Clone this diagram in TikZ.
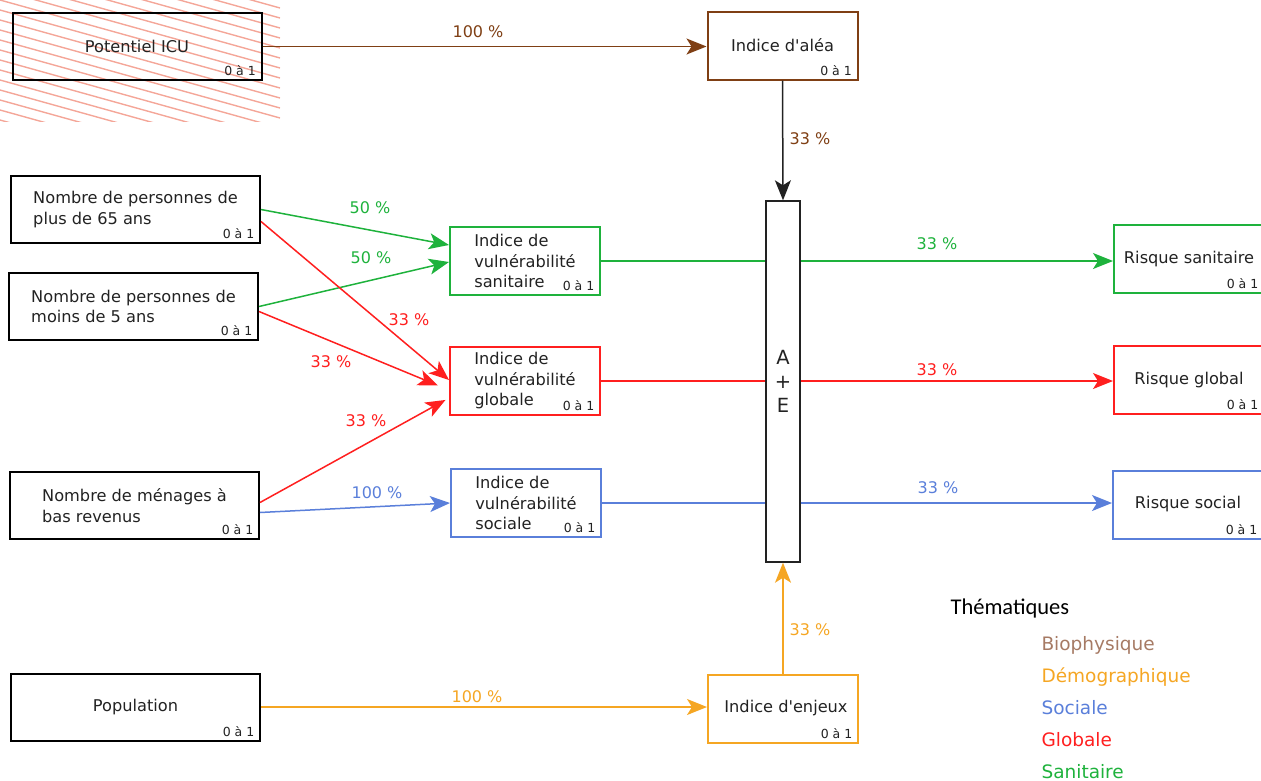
\documentclass[tikz,border=0pt]{standalone}
\usepackage{fontspec}
\setmainfont{DejaVu Sans}
\newfontfamily\titrefont{Carlito}
\usetikzlibrary{positioning,arrows.meta}
\definecolor{cbrun}{HTML}{7F3F14}
\definecolor{cbrunpale}{HTML}{A67A64}
\definecolor{cvert}{HTML}{1EB23C}
\definecolor{crouge}{HTML}{FF1F1F}
\definecolor{cbleu}{HTML}{5A7FDA}
\definecolor{corange}{HTML}{F5A623}
\definecolor{chachure}{HTML}{F4A698}
\definecolor{ctexte}{HTML}{222222}

\begin{document}
\begin{tikzpicture}[x=1pt,y=-1pt,
  boite/.style={draw=black,line width=2pt,minimum width=249pt,minimum height=67pt,
    text=ctexte,font=\fontsize{16.2}{20.5}\selectfont,align=left},
  indice/.style={fill=white,line width=2pt,minimum width=150pt,minimum height=68pt,
    text=ctexte,font=\fontsize{16.2}{20.5}\selectfont,align=left},
  unite/.style={anchor=south east,inner xsep=6.5pt,inner ysep=5pt,text=ctexte,
    font=\fontsize{12.5}{13}\selectfont},
  pct/.style={font=\fontsize{16}{18}\selectfont},
  fleche/.style={-{Stealth[length=20pt,width=16pt,inset=5pt]},line width=1.5pt},
  trait/.style={line width=1.5pt}]

  \useasboundingbox (0,0) rectangle (1261,780);

  % hachures
  \begin{scope}
    \clip (0,0) rectangle (280,121);
    \foreach \k in {-9,...,13}
      \draw[chachure,line width=1.4pt] (0,10*\k) -- (280,10*\k+78);
  \end{scope}

  % entrees
  \node[boite] (icu) at (137,46.5) {Potentiel ICU};
  \node[unite] (icuu) at (icu.south east) {0 à 1};
  \node[boite] (p65) at (135.5,209.5) {Nombre de personnes de\\plus de 65 ans};
  \node[unite] (p65u) at (p65.south east) {0 à 1};
  \node[boite] (m5) at (133.5,306.5) {Nombre de personnes de\\moins de 5 ans};
  \node[unite] (m5u) at (m5.south east) {0 à 1};
  \node[boite] (men) at (134.5,505.5) {Nombre de ménages à\\bas revenus};
  \node[unite] (menu) at (men.south east) {0 à 1};
  \node[boite] (pop) at (135.5,707) {Population};
  \node[unite] (popu) at (pop.south east) {0 à 1};

  % indices
  \node[indice,draw=cbrun] (alea) at (782.5,45.5) {Indice d\textquotesingle{}aléa};
  \node[unite] (aleau) at (alea.south east) {0 à 1};
  \node[indice,draw=cvert] (vsan) at (525,261) {Indice de\\vulnérabilité\\sanitaire};
  \node[unite] (vsanu) at (vsan.south east) {0 à 1};
  \node[indice,draw=crouge] (vglo) at (525,381) {Indice de\\vulnérabilité\\globale};
  \node[unite] (vglou) at (vglo.south east) {0 à 1};
  \node[indice,draw=cbleu] (vsoc) at (526,503) {Indice de\\vulnérabilité\\sociale};
  \node[unite] (vsocu) at (vsoc.south east) {0 à 1};
  \node[indice,draw=corange] (enj) at (783,708.5) {\hspace*{6pt}Indice d\textquotesingle{}enjeux};
  \node[unite] (enju) at (enj.south east) {0 à 1};

  \node[draw=ctexte,fill=white,line width=1.4pt,minimum width=34pt,minimum height=361pt,
    text=ctexte,font=\fontsize{19.5}{24}\selectfont,align=center] (ae) at (783,381.5) {A\\+\\E};

  % risques
  \node[indice,draw=cvert] (rsan) at (1189,259) {Risque sanitaire};
  \node[unite] (rsanu) at (rsan.south east) {0 à 1};
  \node[indice,draw=crouge] (rglo) at (1189,380) {Risque global};
  \node[unite] (rglou) at (rglo.south east) {0 à 1};
  \node[indice,draw=cbleu] (rsoc) at (1188,504.5) {Risque social};
  \node[unite] (rsocu) at (rsoc.south east) {0 à 1};

  % liens
  \draw[fleche,cbrun] (icu.east) -- (alea.west |- icu.east);
  \node[pct,text=cbrun] (l100a) at (478,32) {100 \%};
  \draw[fleche,ctexte] (alea.south) -- (ae.north);
  \node[pct,text=cbrun] (l33a) at (810,139) {33 \%};

  \draw[fleche,cvert] (p65.east) -- ([yshift=16pt]vsan.west);
  \node[pct,text=cvert] (l50a) at (370,208) {50 \%};
  \draw[fleche,cvert] (m5.east) -- ([yshift=-1pt]vsan.west);
  \node[pct,text=cvert] (l50b) at (371,258) {50 \%};

  \draw[fleche,crouge] ([yshift=-12pt]p65.east) -- ([yshift=1pt]vglo.west);
  \node[pct,text=crouge] (l33b) at (409,320) {33 \%};
  \draw[fleche,crouge,shorten >=12pt] ([yshift=-5pt]m5.east) -- ([yshift=-9pt]vglo.west);
  \node[pct,text=crouge] (l33c) at (331,362) {33 \%};
  \draw[fleche,crouge,shorten >=4pt] ([yshift=3pt]men.east) -- ([yshift=-17pt]vglo.west);
  \node[pct,text=crouge] (l33d) at (366,421) {33 \%};

  \draw[fleche,cbleu] ([yshift=-7pt]men.east) -- (vsoc.west);
  \node[pct,text=cbleu] (l100b) at (377,493) {100 \%};

  \draw[trait,cvert] (vsan.east) -- (ae.west |- vsan.east);
  \draw[fleche,cvert] (ae.east |- vsan.east) -- (rsan.west |- vsan.east);
  \node[pct,text=cvert] (l33e) at (937,244) {33 \%};
  \draw[trait,crouge] (vglo.east) -- (ae.west |- vglo.east);
  \draw[fleche,crouge] (ae.east |- vglo.east) -- (rglo.west |- vglo.east);
  \node[pct,text=crouge] (l33f) at (937,370) {33 \%};
  \draw[trait,cbleu] (vsoc.east) -- (ae.west |- vsoc.east);
  \draw[fleche,cbleu] (ae.east |- vsoc.east) -- (rsoc.west |- vsoc.east);
  \node[pct,text=cbleu] (l33g) at (938,488) {33 \%};

  \draw[fleche,corange] (pop.east) -- (enj.west |- pop.east);
  \node[pct,text=corange] (l100c) at (477,697) {100 \%};
  \draw[fleche,corange] (enj.north) -- (ae.south);
  \node[pct,text=corange] (l33h) at (810,630) {33 \%};

  % legende
  \node[anchor=base west,text=black,font=\titrefont\fontsize{22.5}{26}\selectfont] (theme) at (947,614) {Thématiques};
  \foreach \nom/\coul [count=\i] in {Biophysique/cbrunpale,Démographique/corange,Sociale/cbleu,Globale/crouge,Sanitaire/cvert}
    \node[anchor=base west,text=\coul,font=\fontsize{18.5}{22}\selectfont] (leg\i) at (1038,618+32*\i) {\nom};
\end{tikzpicture}
\end{document}
